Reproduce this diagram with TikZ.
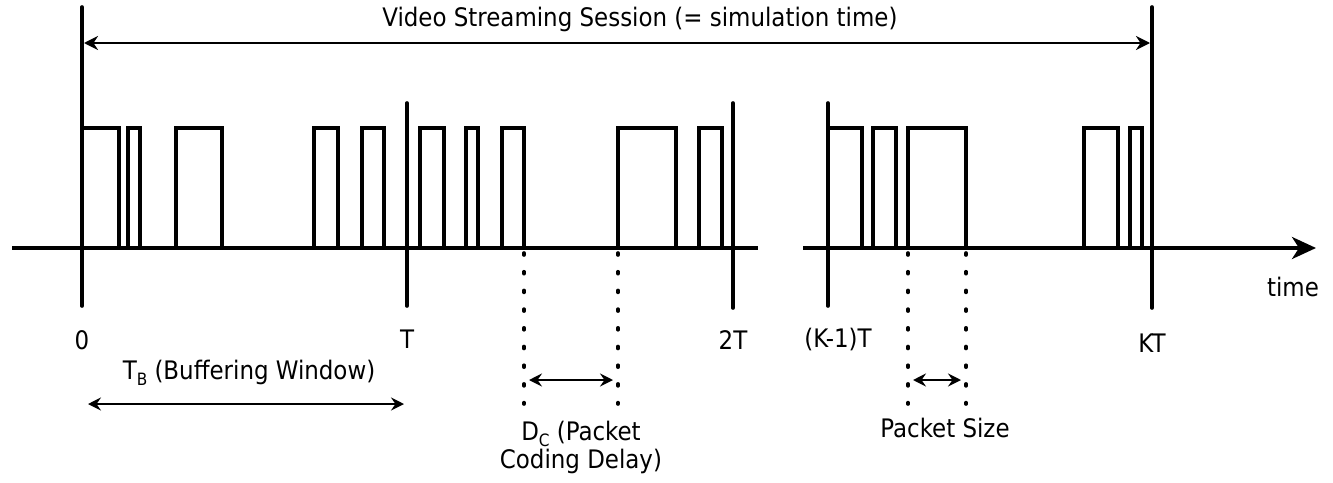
\documentclass[tikz,border=0pt]{standalone}
\usepackage{fontspec}
\setmainfont{DejaVu Sans Condensed}
\usetikzlibrary{arrows.meta}
\newcommand{\mysub}[1]{\raisebox{-0.45ex}{\fontsize{17}{17}\selectfont #1}}
\tikzset{
  lbl/.style={font=\fontsize{25.5}{29}\selectfont, inner sep=0pt, anchor=center},
  axisline/.style={line width=3.6pt},
  pulseline/.style={line width=3.6pt, line join=miter},
  tickline/.style={line width=3.6pt, line cap=round},
  dotline/.style={line width=3.6pt, line cap=round, dash pattern=on 2pt off 16.7pt},
  spanarrow/.style={line width=2.7pt, {Stealth[length=14pt,width=14pt,inset=4.5pt]}-{Stealth[length=14pt,width=14pt,inset=4.5pt]}},
  smallarrow/.style={line width=2.6pt, {Stealth[length=13pt,width=13pt,inset=4.5pt]}-{Stealth[length=13pt,width=13pt,inset=4.5pt]}}
}
\begin{document}
\begin{tikzpicture}[x=1pt,y=-1pt]
\useasboundingbox (0,0) rectangle (1333,482);
% axis
\coordinate (ax1s) at (12,248);
\coordinate (ax1e) at (758,248);
\coordinate (ax2s) at (803,248);
\coordinate (ax2e) at (1316,248);
\draw[axisline] (ax1s) -- (ax1e);
\draw[axisline, -{Stealth[length=24pt,width=22pt,inset=7pt]}] (ax2s) -- (ax2e);
% pulses
\foreach \a/\b in {82/119,128/140,176/222,314/338,362/384,420/444,466/478,502/524,618/676,699/722,828/862,873/896,908/966,1084/1118,1130/1142}{
  \draw[pulseline] (\a,248) -- (\a,128) -- (\b,128) -- (\b,248);
}
% ticks
\coordinate (t0top) at (82,7);   \coordinate (t0bot) at (82,306);
\coordinate (t1top) at (407,103); \coordinate (t1bot) at (407,306);
\coordinate (t2top) at (733,103); \coordinate (t2bot) at (733,308);
\coordinate (tk1top) at (828,103); \coordinate (tk1bot) at (828,306);
\coordinate (tktop) at (1152,7); \coordinate (tkbot) at (1152,308);
\draw[tickline] (t0top) -- (t0bot);
\draw[tickline] (t1top) -- (t1bot);
\draw[tickline] (t2top) -- (t2bot);
\draw[tickline] (tk1top) -- (tk1bot);
\draw[tickline] (tktop) -- (tkbot);
% dotted lines
\coordinate (d1a) at (524,253); \coordinate (d1b) at (524,404);
\coordinate (d2a) at (618,253); \coordinate (d2b) at (618,404);
\coordinate (d3a) at (908,253); \coordinate (d3b) at (908,404);
\coordinate (d4a) at (966,253); \coordinate (d4b) at (966,404);
\draw[dotline] (d1a) -- (d1b);
\draw[dotline] (d2a) -- (d2b);
\draw[dotline] (d3a) -- (d3b);
\draw[dotline] (d4a) -- (d4b);
% session arrow
\coordinate (sa) at (84,43);
\coordinate (sb) at (1150,43);
\draw[spanarrow] (sa) -- (sb);
\node[lbl] (title) at (640,19) {Video Streaming Session (= simulation time)};
% buffering window
\coordinate (ba) at (88,404);
\coordinate (bb) at (404,404);
\draw[smallarrow] (ba) -- (bb);
\node[lbl] (tb) at (249,373) {T\mysub{B} (Buffering Window)};
% coding delay
\coordinate (ca) at (529,380);
\coordinate (cb) at (613,380);
\draw[smallarrow] (ca) -- (cb);
\node[lbl, align=center] (dc) at (581,447) {D\mysub{C} (Packet\\[-1pt]Coding Delay)};
% packet size
\coordinate (pa) at (913,380);
\coordinate (pb) at (961,380);
\draw[smallarrow] (pa) -- (pb);
\node[lbl] (ps) at (945,428) {Packet Size};
% tick labels
\node[lbl] (l0) at (82,340) {0};
\node[lbl] (l1) at (407,339) {T};
\node[lbl] (l2) at (733,340) {2T};
\node[lbl] (lk1) at (838,340) {(K-1)T};
\node[lbl] (lk) at (1152,343) {KT};
\node[lbl] (time) at (1293,287) {time};
\end{tikzpicture}
\end{document}
